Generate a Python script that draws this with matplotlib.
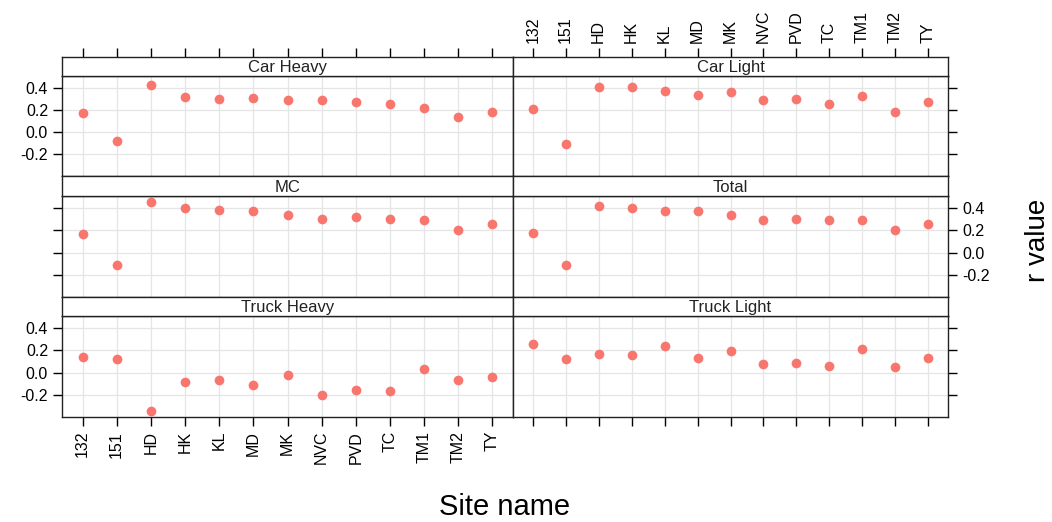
import matplotlib
matplotlib.use('Agg')
import matplotlib.pyplot as plt
import numpy as np

sites = ['132', '151', 'HD', 'HK', 'KL', 'MD', 'MK', 'NVC', 'PVD', 'TC', 'TM1', 'TM2', 'TY']

car_heavy = [0.173, -0.085, 0.427, 0.318, 0.297, 0.309, 0.285, 0.285, 0.273, 0.252, 0.218, 0.133, 0.182]
car_light = [0.206, -0.112, 0.403, 0.403, 0.370, 0.333, 0.358, 0.285, 0.297, 0.255, 0.321, 0.182, 0.273]
mc = [0.167, -0.110, 0.454, 0.397, 0.385, 0.373, 0.340, 0.301, 0.316, 0.301, 0.292, 0.200, 0.260]
total = [0.179, -0.107, 0.418, 0.397, 0.373, 0.373, 0.340, 0.292, 0.301, 0.292, 0.292, 0.200, 0.260]
truck_heavy = [0.141, 0.120, -0.343, -0.087, -0.066, -0.111, -0.018, -0.204, -0.156, -0.168, 0.030, -0.066, -0.042]
truck_light = [0.259, 0.120, 0.165, 0.156, 0.238, 0.132, 0.189, 0.075, 0.084, 0.063, 0.214, 0.051, 0.132]

panels = [[('Car Heavy', car_heavy), ('Car Light', car_light)],
          [('MC', mc), ('Total', total)],
          [('Truck Heavy', truck_heavy), ('Truck Light', truck_light)]]

yticks = [-0.2, 0.0, 0.2, 0.4]
ylim = (-0.397, 0.506)
xlim = (0.4, 13.6)
pt_color = '#F8766D'

plt.rcParams['font.family'] = ['Liberation Sans', 'DejaVu Sans']
plt.rcParams['axes.unicode_minus'] = False

W, H = 1052, 522
fig = plt.figure(figsize=(W / 100, H / 100), dpi=100)

# pixel geometry: (left, right) per column, (strip_top, panel_top, panel_bottom) per row
cols = [(62, 513), (513, 948)]
rows = [(57, 76, 176), (176, 196, 297), (297, 316, 417)]
tick_fs = 11.5


def box(x0, x1, y0, y1):
    return [x0 / W, 1 - y1 / H, (x1 - x0) / W, (y1 - y0) / H]


x = np.arange(1, len(sites) + 1)
for r, (st, pt, pb) in enumerate(rows):
    for c, (x0, x1) in enumerate(cols):
        name, vals = panels[r][c]
        ax = fig.add_axes(box(x0, x1, pt, pb))
        sax = fig.add_axes(box(x0, x1, st, pt), sharex=ax)

        ax.plot(x, vals, 'o', color=pt_color, markersize=7, markeredgewidth=0, zorder=3)
        ax.set_xlim(*xlim)
        ax.set_ylim(*ylim)
        ax.set_xticks(x)
        ax.set_yticks(yticks)
        ax.grid(True, color='#E5E5E5', linewidth=0.9)
        ax.set_axisbelow(True)
        for sp in ax.spines.values():
            sp.set_linewidth(1.0)
            sp.set_color('#222222')

        # y axis alternates sides
        ax.tick_params(axis='y', direction='out', length=6.5, width=1.0, labelsize=tick_fs,
                       left=(c == 0), right=(c == 1),
                       labelleft=(c == 0 and r != 1), labelright=(c == 1 and r == 1))

        # bottom row gets x ticks
        ax.tick_params(axis='x', direction='out', length=6.5, width=1.0, labelsize=tick_fs,
                       bottom=(r == 2), top=False,
                       labelbottom=(r == 2 and c == 0), labeltop=False,
                       labelrotation=90)
        if r == 2 and c == 0:
            ax.set_xticklabels(sites)

        # strip
        sax.set_facecolor('white')
        sax.set_yticks([])
        for sp in sax.spines.values():
            sp.set_linewidth(1.0)
            sp.set_color('#222222')
        sax.tick_params(axis='x', direction='out', length=6.5, width=1.0, labelsize=tick_fs,
                        bottom=False, labelbottom=False,
                        top=(r == 0), labeltop=(r == 0 and c == 1), labelrotation=90)
        if r == 0 and c == 1:
            sax.set_xticks(x)
            sax.set_xticklabels(sites)
        sax.text(0.5, 0.45, name, transform=sax.transAxes, ha='center', va='center',
                 fontsize=12, color='#222222')

fig.text(505 / W, 1 - 507 / H, 'Site name', ha='center', va='center', fontsize=21)
fig.text(1038 / W, 1 - 240 / H, 'r value', ha='center', va='center', fontsize=20, rotation=90)

fig.savefig('out.png', dpi=100)
